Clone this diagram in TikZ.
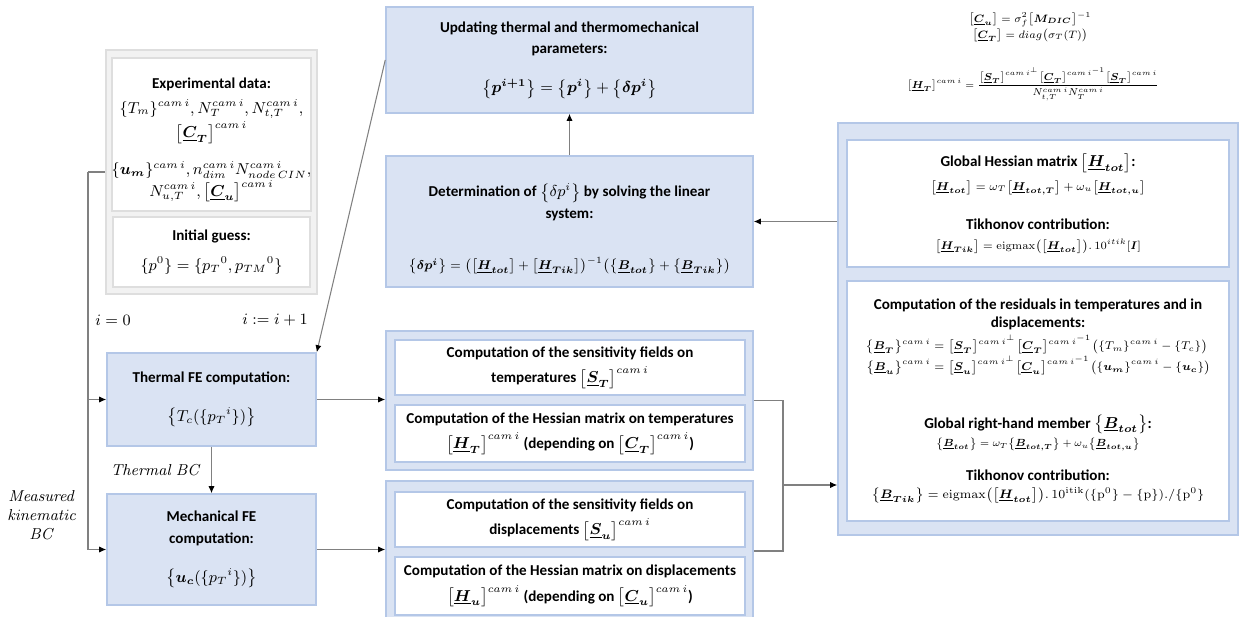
\documentclass[tikz,border=0pt]{standalone}
\usepackage[no-math]{fontspec}
\setmainfont{Carlito}
\usepackage{amsmath}
\usepackage{bm}
\usepackage{graphicx}
\usepackage{xcolor}
\usetikzlibrary{arrows.meta}

\definecolor{boxblue}{HTML}{DAE3F3}
\definecolor{boxline}{HTML}{B4C7E7}
\definecolor{grayfill}{HTML}{F2F2F2}
\definecolor{grayline}{HTML}{DEDEDE}
\definecolor{wireg}{HTML}{808080}

\newcommand{\ub}[1]{\underline{\bm{#1}}}
\newcommand{\bkt}[1]{\bigl[#1\bigr]}
\newcommand{\cbr}[1]{\bigl\{#1\bigr\}}
\newcommand{\cam}{cam\,i}
\newcommand{\fsz}[1]{\fontsize{#1}{#1}\selectfont}

\begin{document}
\begin{tikzpicture}[x=0.02cm, y=-0.02cm,
    font=\fontsize{8.6}{10.3}\selectfont,
    bluebox/.style={draw=boxline, fill=boxblue, line width=0.9pt, align=center, inner sep=0pt},
    whitebox/.style={draw=boxline, fill=white, line width=0.9pt, align=center, inner sep=0pt},
    graybox/.style={draw=grayline, fill=grayfill, line width=0.9pt, inner sep=0pt},
    graywhite/.style={draw=grayline, fill=white, line width=0.9pt, align=center, inner sep=0pt},
    wire/.style={draw=wireg, line width=0.6pt},
    conn/.style={wire, -{Latex[length=4pt, width=3.5pt, black]}},
    lbl/.style={font=\fontsize{9}{11}\selectfont, align=center}]

    \useasboundingbox (0,0) rectangle (1240,617);

    % Experimental data and initial guess
    \node[graybox, minimum width=4.22cm, minimum height=4.88cm] (expgrp) at (211.5,172) {};
    \node[graywhite, minimum width=3.94cm, minimum height=3.06cm] (expdata) at (211.5,134.5)
        {\rule{0pt}{12pt}\textbf{Experimental data:}\\[4pt]
         $\{T_m\}^{\cam}, N_T^{\cam}, N_{t,T}^{\cam},$\\[1pt]
         $\bkt{\ub{C}_{\bm T}}^{\cam}$\\[9pt]
         $\{\bm{u_m}\}^{\cam}, n_{dim}^{\cam} N_{node\,CIN}^{\cam},$\\[0pt]
         $N_{u,T}^{\cam}, \bkt{\ub{C}_{\bm u}}^{\cam}$};
    \node[graywhite, minimum width=3.94cm, minimum height=1.4cm] (guess) at (211.5,252)
        {\textbf{Initial guess:}\\[7pt]
         $\{p^0\} = \{{p_T}^0, {p_{TM}}^0\}$};

    % Update of the parameters
    \node[bluebox, minimum width=7.34cm, minimum height=2.12cm] (upd) at (569.5,60)
        {\textbf{Updating thermal and thermomechanical}\\[2pt]
         \textbf{parameters:}\\[12pt]
         $\cbr{\bm{p^{i+1}}} = \cbr{\bm{p^i}} + \cbr{\bm{\delta p^i}}$};

    % Linear system
    \node[bluebox, minimum width=7.34cm, minimum height=2.62cm] (det) at (569.5,221.5)
        {\rule{0pt}{16pt}\textbf{Determination of $\cbr{\delta p^i}$ by solving the linear}\\[2pt]
         \textbf{system:}\\[19pt]
         \scalebox{0.9}{\fsz{7.9}$\cbr{\bm{\delta p^i}} = \bigl(\bkt{\ub{H}_{\bm{tot}}} + \bkt{\ub{H}_{\bm{Tik}}}\bigr)^{-1}
          \bigl(\cbr{\ub{B}_{\bm{tot}}} + \cbr{\ub{B}_{\bm{Tik}}}\bigr)$}};

    % Thermal FE
    \node[bluebox, minimum width=4.18cm, minimum height=1.86cm] (ther) at (211.5,399.5)
        {\textbf{Thermal FE computation:}\\[12pt]
         $\cbr{T_c(\{{p_T}^i\})}$};

    % Mechanical FE
    \node[bluebox, minimum width=4.18cm, minimum height=2.22cm] (mech) at (211.5,549.5)
        {\textbf{Mechanical FE}\\[2pt]
         \textbf{computation:}\\[12pt]
         $\cbr{\bm{u_c}(\{{p_T}^i\})}$};

    % Temperatures group
    \node[bluebox, minimum width=7.34cm, minimum height=2.78cm] (tgrp) at (569.5,400.5) {};
    \node[whitebox, minimum width=7cm, minimum height=1.1cm] (tsens) at (570,367.5)
        {\textbf{Computation of the sensitivity fields on}\\[3pt]
         \textbf{temperatures} $\bkt{\ub{S}_{\bm T}}^{\cam}$};
    \node[whitebox, minimum width=7cm, minimum height=1.14cm] (thess) at (570,433.5)
        {\textbf{Computation of the Hessian matrix on temperatures}\\[3pt]
         $\bkt{\ub{H}_{\bm T}}^{\cam}$ \textbf{(depending on} $\bkt{\ub{C}_{\bm T}}^{\cam}$\textbf{)}};

    % Displacements group
    \node[bluebox, minimum width=7.34cm, minimum height=2.8cm] (ugrp) at (569.5,551) {};
    \node[whitebox, minimum width=7cm, minimum height=1.1cm] (usens) at (570,519.5)
        {\textbf{Computation of the sensitivity fields on}\\[3pt]
         \textbf{displacements} $\bkt{\ub{S}_{\bm u}}^{\cam}$};
    \node[whitebox, minimum width=7cm, minimum height=1.16cm] (uhess) at (570,586)
        {\textbf{Computation of the Hessian matrix on displacements}\\[3pt]
         $\bkt{\ub{H}_{\bm u}}^{\cam}$ \textbf{(depending on} $\bkt{\ub{C}_{\bm u}}^{\cam}$\textbf{)}};

    % Global matrices
    \node[bluebox, minimum width=8cm, minimum height=8.24cm] (rgrp) at (1038,329) {};
    \node[whitebox, minimum width=7.64cm, minimum height=2.54cm] (hglob) at (1038,203.5)
        {\textbf{Global Hessian matrix} $\bkt{\ub{H}_{\bm{tot}}}$\textbf{:}\\[3pt]
         \scalebox{0.92}{\fsz{7.2}$\bkt{\ub{H}_{\bm{tot}}} = \omega_T\bkt{\ub{H}_{\bm{tot,T}}} + \omega_u\bkt{\ub{H}_{\bm{tot,u}}}$}\\[12pt]
         \textbf{Tikhonov contribution:}\\[1pt]
         \scalebox{0.9}{\fsz{7.2}$\bkt{\ub{H}_{\bm{Tik}}} = \mathrm{eigmax}\bigl(\bkt{\ub{H}_{\bm{tot}}}\bigr).\,10^{itik}[\bm{I}]$}};
    \node[whitebox, minimum width=7.64cm, minimum height=4.8cm] (bglob) at (1038,401)
        {\textbf{Computation of the residuals in temperatures and in}\\[0pt]
         \textbf{displacements:}\\[2pt]
         \scalebox{0.92}{\fsz{7.2}$\begin{aligned}
           \cbr{\ub{B}_{\bm T}}^{\cam} &= \bkt{\ub{S}_{\bm T}}^{\cam^{\perp}}\bkt{\ub{C}_{\bm T}}^{\cam^{-1}}\bigl(\{T_m\}^{\cam}-\{T_c\}\bigr)\\[-3pt]
           \cbr{\ub{B}_{\bm u}}^{\cam} &= \bkt{\ub{S}_{\bm u}}^{\cam^{\perp}}\bkt{\ub{C}_{\bm u}}^{\cam^{-1}}\bigl(\{\bm{u_m}\}^{\cam}-\{\bm{u_c}\}\bigr)
         \end{aligned}$}\\[22pt]
         \textbf{Global right-hand member} $\cbr{\ub{B}_{\bm{tot}}}$\textbf{:}\\[0pt]
         \scalebox{0.84}{\fsz{7.2}$\cbr{\ub{B}_{\bm{tot}}} = \omega_T\cbr{\ub{B}_{\bm{tot,T}}} + \omega_u\cbr{\ub{B}_{\bm{tot,u}}}$}\\[9pt]
         \textbf{Tikhonov contribution:}\\[0pt]
         {\fsz{7.2}$\cbr{\ub{B}_{\bm{Tik}}} = \mathrm{eigmax}\bigl(\bkt{\ub{H}_{\bm{tot}}}\bigr).\,10^{\mathrm{itik}}(\{\mathrm{p}^0\}-\{\mathrm{p}\})./\{\mathrm{p}^0\}$}};

    % Covariances
    \node[align=center, font=\fontsize{7}{9}\selectfont] (cov) at (1030,27)
        {\scalebox{0.87}{$\bkt{\ub{C}_{\bm u}} = \sigma_f^2\bkt{\bm{M_{DIC}}}^{-1}$}\\[0pt]
         \scalebox{0.87}{$\bkt{\ub{C}_{\bm T}} = diag\bigl(\sigma_T(T)\bigr)$}};
    \node[font=\fontsize{6.6}{8}\selectfont] (hterm) at (1033,84)
        {\scalebox{0.82}{$\bkt{\ub{H}_{\bm T}}^{\cam} = \dfrac{\bkt{\ub{S}_{\bm T}}^{\cam^{\perp}}\bkt{\ub{C}_{\bm T}}^{\cam^{-1}}\bkt{\ub{S}_{\bm T}}^{\cam}}{N_{t,T}^{\cam}N_T^{\cam}}$}};

    % Labels
    \node[lbl] (izero) at (113,320) {$i = 0$};
    \node[lbl] (inext) at (275,320) {$i \mathrel{:=} i + 1$};
    \node[lbl] (thbc) at (156,470) {$\mathit{Thermal\ BC}$};
    \node[lbl] (kinbc) at (42,515) {$\mathit{Measured}$\\$\mathit{kinematic}$\\$\mathit{BC}$};

    % Arrows
    \coordinate (bus) at (88,172);
    \coordinate (join) at (783,485);
    \draw[wire] (expgrp.west) -- (bus);
    \draw[conn] (bus) |- (mech.west);
    \draw[conn] (bus |- ther.west) -- (ther.west);
    \draw[conn] (ther.south) -- (mech.north);
    \draw[conn] (upd.west) -- (ther.north east);
    \draw[conn] (det.north) -- (upd.south);
    \draw[conn] (rgrp.west |- det.east) -- (det.east);
    \draw[conn] (ther.east) -- (ther.east -| tgrp.west);
    \draw[conn] (mech.east) -- (mech.east -| ugrp.west);
    \draw[wire] (tgrp.east) -| (join);
    \draw[wire] (ugrp.east) -| (join);
    \draw[conn] (join) -- (join -| rgrp.west);
\end{tikzpicture}
\end{document}
